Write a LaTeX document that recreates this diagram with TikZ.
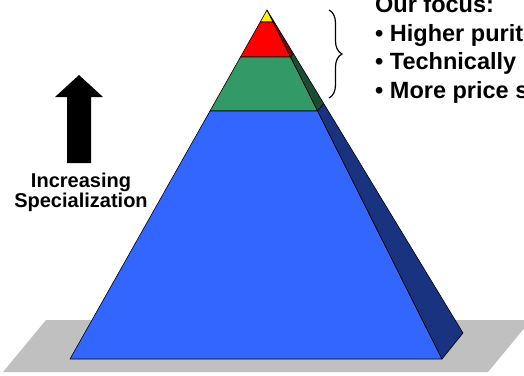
\documentclass[tikz,border=0pt]{standalone}
\usepackage{fontspec}
\setmainfont{Liberation Sans}
\usetikzlibrary{calc,decorations.pathreplacing}
\definecolor{floorgray}{RGB}{192,192,192}
\definecolor{layerblue}{RGB}{51,102,255}
\definecolor{sideblue}{RGB}{26,51,128}
\definecolor{layergreen}{RGB}{51,153,102}
\definecolor{sidegreen}{RGB}{26,77,51}
\definecolor{sidered}{RGB}{128,0,0}
\definecolor{sideyellow}{RGB}{128,128,0}
\tikzset{
  layer/.style={draw=black,line width=0.6pt,line join=round},
  label text/.style={font=\bfseries\fontsize{20}{20}\selectfont,inner sep=0pt},
  focus text/.style={font=\bfseries\fontsize{23.5}{24}\selectfont,inner sep=0pt,anchor=base west}
}
\begin{document}
\begin{tikzpicture}[x=1pt,y=-1pt]
  \clip (0,0) rectangle (524,375);
  % floor
  \fill[floorgray] (3,372) -- (488,372) -- (531,320) -- (46,320) -- cycle;
  % pyramid corners
  \coordinate (apex) at (267,10);
  \coordinate (baseL) at (70,359);
  \coordinate (baseR) at (442,359);
  \coordinate (back) at (463,333);
  % layers, top down: front face and side face
  \foreach \ta/\tb/\front/\side in {0/0.0344/yellow/sideyellow, 0.0344/0.1347/red/sidered, 0.1347/0.2894/layergreen/sidegreen, 0.2894/1/layerblue/sideblue}{
    \draw[layer,fill=\front] ($(apex)!\ta!(baseL)$) -- ($(apex)!\tb!(baseL)$) -- ($(apex)!\tb!(baseR)$) -- ($(apex)!\ta!(baseR)$) -- cycle;
    \draw[layer,fill=\side] ($(apex)!\ta!(baseR)$) -- ($(apex)!\tb!(baseR)$) -- ($(apex)!\tb!(back)$) -- ($(apex)!\ta!(back)$) -- cycle;
  }
  % arrow
  \fill (79,75) -- (103,97) -- (91,97) -- (91,163) -- (67,163) -- (67,97) -- (55,97) -- cycle;
  \node[label text,anchor=base] (inc) at (81,187) {Increasing};
  \node[label text,anchor=base] (spec) at (81,207) {Specialization};
  % focus list
  \draw[line width=1.2pt,decorate,decoration={brace,amplitude=13pt}] (329,10) -- (329,98);
  \node[focus text] (focus) at (375,12.5) {Our focus:};
  \node[focus text] (purity) at (375,41) {• Higher purit};
  \node[focus text] (technical) at (375,69.5) {• Technically};
  \node[focus text] (price) at (375,98) {• More price s};
\end{tikzpicture}
\end{document}
